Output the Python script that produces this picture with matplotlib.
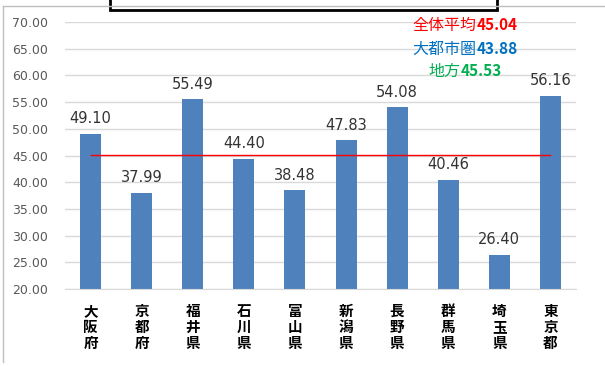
import matplotlib.pyplot as plt
import matplotlib.patches as patches
from matplotlib.lines import Line2D
from matplotlib.offsetbox import TextArea, HPacker, AnnotationBbox

plt.rcParams['font.family'] = ['Noto Sans CJK JP', 'DejaVu Sans']

prefs = ["大阪府", "京都府", "福井県", "石川県", "富山県",
         "新潟県", "長野県", "群馬県", "埼玉県", "東京都"]
values = [49.10, 37.99, 55.49, 44.40, 38.48, 47.83, 54.08, 40.46, 26.40, 56.16]
overall_avg = 45.04
urban_avg = 43.88
rural_avg = 45.53
y_ticks = [20, 25, 30, 35, 40, 45, 50, 55, 60, 65, 70]

fig = plt.figure(figsize=(6.05, 3.66), dpi=100)
ax = fig.add_axes([65 / 605, 1 - 289 / 366, 511 / 605, 267 / 366])

x = list(range(len(prefs)))
ax.bar(x, values, width=0.41, color="#4F81BD", zorder=2)
ax.plot(x, [overall_avg] * len(x), color="#FF0000", lw=1.0, zorder=3)

for xi, v in zip(x, values):
    ax.text(xi, v + 1.4, f"{v:.2f}", ha="center", va="bottom",
            fontsize=10.5, color="#333333", family="DejaVu Sans")

ax.set_xlim(-0.5, len(prefs) - 0.5)
ax.set_ylim(20, 70)
ax.set_yticks(y_ticks)
ax.set_yticklabels([f"{t:.2f}" for t in y_ticks], fontsize=9,
                   color="#595959", family="DejaVu Sans")
ax.yaxis.grid(True, color="#D9D9D9", lw=1)
ax.set_axisbelow(True)
ax.tick_params(axis="y", length=0, pad=12)
ax.tick_params(axis="x", length=0, pad=10)
ax.set_xticks(x)
ax.set_xticklabels(["\n".join(p) for p in prefs], fontsize=10.5,
                   fontweight="bold", color="black", linespacing=1.0)
for s in ["top", "right", "left"]:
    ax.spines[s].set_visible(False)
ax.spines["bottom"].set_color("#D9D9D9")

# average annotations
notes = [("全体平均", overall_avg, "#FF0000", 25),
         ("大都市圏", urban_avg, "#0070C0", 49),
         ("地方", rural_avg, "#00B050", 71)]
for label, val, col, ypx in notes:
    box = HPacker(children=[
        TextArea(label, textprops=dict(color=col, fontsize=11.5)),
        TextArea(f"{val:.2f}", textprops=dict(color=col, fontsize=11,
                                               fontweight="bold"))],
        pad=0, sep=0, align="baseline")
    ab = AnnotationBbox(box, (465 / 605, 1 - ypx / 366), xycoords="figure fraction",
                        frameon=False, box_alignment=(0.5, 0.5))
    fig.add_artist(ab)

# chart border and title box stub
fig.add_artist(Line2D([3 / 605, 3 / 605], [1 - 6 / 366, 1 - 362 / 366],
                      transform=fig.transFigure, color="#BFBFBF", lw=1))
fig.add_artist(Line2D([3 / 605, 1], [1 - 6 / 366, 1 - 6 / 366],
                      transform=fig.transFigure, color="#BFBFBF", lw=1))
fig.add_artist(patches.Rectangle((110 / 605, 1 - 10 / 366), 387 / 605, 30 / 366,
                                 transform=fig.transFigure, facecolor="white",
                                 edgecolor="black", lw=2))

fig.savefig("out.png", dpi=100)
